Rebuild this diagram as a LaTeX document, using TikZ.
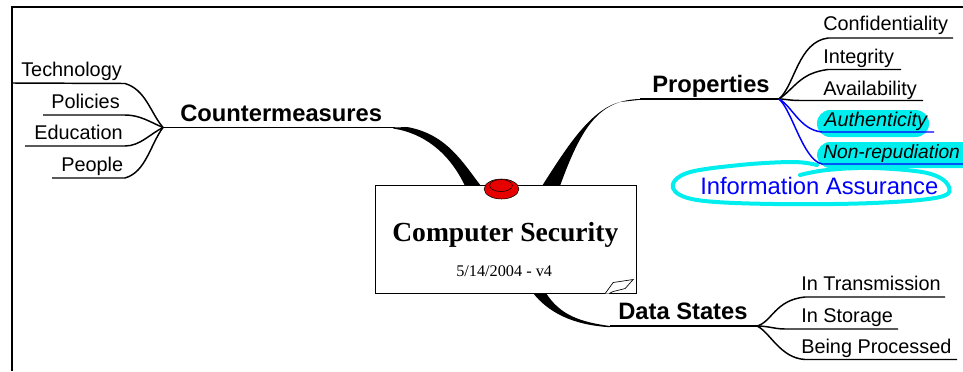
\documentclass[tikz,border=0pt]{standalone}
\usepackage{fontspec}
\setmainfont{Liberation Sans}
\newfontfamily\serifface{Liberation Serif}
\usepackage{xcolor}
\usetikzlibrary{shapes}
\definecolor{marker}{RGB}{0,238,238}
\definecolor{pinred}{RGB}{230,0,0}
\tikzset{
	leaf/.style={inner sep=0pt, anchor=base west, font=\fontsize{14.9}{16}\selectfont},
	mainbranch/.style={inner sep=0pt, anchor=base west, font=\fontsize{17.8}{20}\selectfont\bfseries},
	twig/.style={line width=1.1pt, line join=round},
	bluetwig/.style={twig, color=blue},
	glow/.style={fill=marker, rounded corners=10pt},
}
\begin{document}
\begin{tikzpicture}[x=0.75pt, y=-0.75pt]
	\useasboundingbox (0,0) rectangle (963,371);
	\clip (0,0) rectangle (963,371);
	%Rahmen
	\coordinate (frameA) at (12,371);
	\coordinate (frameB) at (12,7);
	\coordinate (frameC) at (963,7);
	\draw[line width=1.5pt] (frameA) -- (frameB) -- (frameC);
	%
	%Verzweigungen
	\coordinate (hubCounter) at (163,127.5);
	\coordinate (hubProp) at (779,99);
	\coordinate (hubData) at (757,326);
	%
	%Marker Authenticity, Non-repudiation
	\fill[glow] (817,110) rectangle (929,137);
	\fill[glow] (817,142) rectangle (985,168);
	%
	%Marker Information Assurance
	\draw[color=marker, line width=3pt, line cap=round, line join=round] plot[smooth, tension=0.6] coordinates {(800,175) (827,170) (873,168) (927,173) (948,185) (940,197) (873,203) (773,204) (697,200) (673,188) (687,173) (740,165) (793,162) (817,165)};
	%
	%Ast Countermeasures
	\coordinate (counterL) at (465,186);
	\coordinate (counterR) at (481,186);
	\coordinate (counterJoin) at (395,127.5);
	\draw[twig] (hubCounter) -- (counterJoin);
	\fill (counterR) .. controls (463,163) and (447,134) .. (407,127) -- (counterJoin) -- (393,128.5) .. controls (423,133) and (449,152) .. (counterL) -- cycle;
	%
	%Ast Properties
	\coordinate (propL) at (542,186);
	\coordinate (propR) at (560,186);
	\coordinate (propJoin) at (640,99);
	\draw[twig] (hubProp) -- (propJoin);
	\fill (propL) .. controls (567,147) and (590,110) .. (620,102) -- (640,99.8) -- (propJoin) .. controls (600,100) and (582,125) .. (propR) -- cycle;
	%
	%Ast Data States
	\coordinate (dataL) at (533,293);
	\coordinate (dataR) at (546,293);
	\coordinate (dataJoin) at (610,326);
	\draw[twig] (hubData) -- (dataJoin);
	\fill (dataL) .. controls (548,312) and (572,325) .. (610,327.2) -- (dataJoin) .. controls (580,322) and (560,315) .. (dataR) -- cycle;
	%
	%Thema
	\node (topic) at (506,239) [draw=black, fill=white, line width=0.75pt, minimum width=196pt, minimum height=81pt, inner sep=0pt] {};
	\node (title) at (392,241) [inner sep=0pt, anchor=base west, font=\fontsize{20.7}{22}\selectfont\serifface\bfseries] {Computer Security};
	\node (date) at (456,276.5) [inner sep=0pt, anchor=base west, font=\fontsize{12.2}{14}\selectfont\serifface] {5/14/2004 - v4};
	%
	%Pin
	\node (pin) at (501.5,189) [draw=black, fill=pinred, ellipse, line width=0.4pt, minimum width=26pt, minimum height=15pt, inner sep=0pt] {};
	\node (pintop) at (501,185.5) [draw=black, fill=pinred, ellipse, line width=0.4pt, minimum width=17pt, minimum height=9pt, inner sep=0pt] {};
	%
	%Notiz
	\draw[fill=white, line width=0.5pt] (topic.south east) ++(-32,0) -- ++(8,-11) -- ++(20,-3) -- ++(-8,9) -- ++(-12,3) -- ++(-4,2);
	%
	%Countermeasures
	\node (counter) at (180,121) [mainbranch] {Countermeasures};
	%
	%Technology
	\node (tech) at (21,76) [leaf] {Technology};
	\coordinate (techEnd) at (12,83);
	\draw[twig] (hubCounter) .. controls (150,112) and (146,90) .. (125,83.5) -- (techEnd);
	%
	%Policies
	\node (policies) at (51,108) [leaf] {Policies};
	\coordinate (policiesEnd) at (43,115);
	\draw[twig] (hubCounter) .. controls (150,122) and (140,115) .. (125,115) -- (policiesEnd);
	%
	%Education
	\node (education) at (34,139) [leaf] {Education};
	\coordinate (educationEnd) at (25,146);
	\draw[twig] (hubCounter) .. controls (150,134) and (140,146) .. (125,146) -- (educationEnd);
	%
	%People
	\node (people) at (61,171) [leaf] {People};
	\coordinate (peopleEnd) at (52,178);
	\draw[twig] (hubCounter) .. controls (150,145) and (146,172) .. (125,178) -- (peopleEnd);
	%
	%Properties
	\node (prop) at (652,92) [mainbranch] {Properties};
	%
	%Confidentiality
	\node (conf) at (823,31) [leaf] {Confidentiality};
	\coordinate (confEnd) at (953,38);
	\draw[twig] (hubProp) .. controls (795,85) and (798,42) .. (828,38) -- (confEnd);
	%
	%Integrity
	\node (integrity) at (823,63) [leaf] {Integrity};
	\coordinate (integrityEnd) at (901,69.5);
	\draw[twig] (hubProp) .. controls (795,88) and (800,73) .. (828,69.5) -- (integrityEnd);
	%
	%Availability
	\node (avail) at (823,95) [leaf] {Availability};
	\coordinate (availEnd) at (923,100.5);
	\draw[twig] (hubProp) .. controls (785,99) and (790,100.5) .. (800,100.5) -- (availEnd);
	%
	%Authenticity
	\node (auth) at (824,126) [leaf, font=\fontsize{14.9}{16}\selectfont\itshape] {Authenticity};
	\coordinate (authEnd) at (934,132);
	\draw[bluetwig] (hubProp) .. controls (792,106) and (800,130) .. (822,132) -- (authEnd);
	%
	%Non-repudiation
	\node (nonrep) at (823,158) [leaf, font=\fontsize{14.4}{16}\selectfont\itshape] {Non-repudiation};
	\coordinate (nonrepEnd) at (963,164);
	\draw[bluetwig] (hubProp) .. controls (792,110) and (803,160) .. (822,164) -- (nonrepEnd);
	%
	%Information Assurance
	\node (assurance) at (700,194) [leaf, text=blue, font=\fontsize{17.85}{20}\selectfont] {Information Assurance};
	%
	%Data States
	\node (data) at (618,319) [mainbranch] {Data States};
	%
	%In Transmission
	\node (trans) at (801,290) [leaf] {In Transmission};
	\coordinate (transEnd) at (945,297);
	\draw[twig] (hubData) .. controls (772,322) and (775,300) .. (805,297) -- (transEnd);
	%
	%In Storage
	\node (storage) at (801,322) [leaf] {In Storage};
	\coordinate (storageEnd) at (898,329);
	\draw[twig] (hubData) .. controls (768,326) and (775,329) .. (785,329) -- (storageEnd);
	%
	%Being Processed
	\node (processed) at (801,353) [leaf] {Being Processed};
	\coordinate (processedEnd) at (957,359.5);
	\draw[twig] (hubData) .. controls (770,332) and (780,358) .. (805,359.5) -- (processedEnd);
\end{tikzpicture}
\end{document}
